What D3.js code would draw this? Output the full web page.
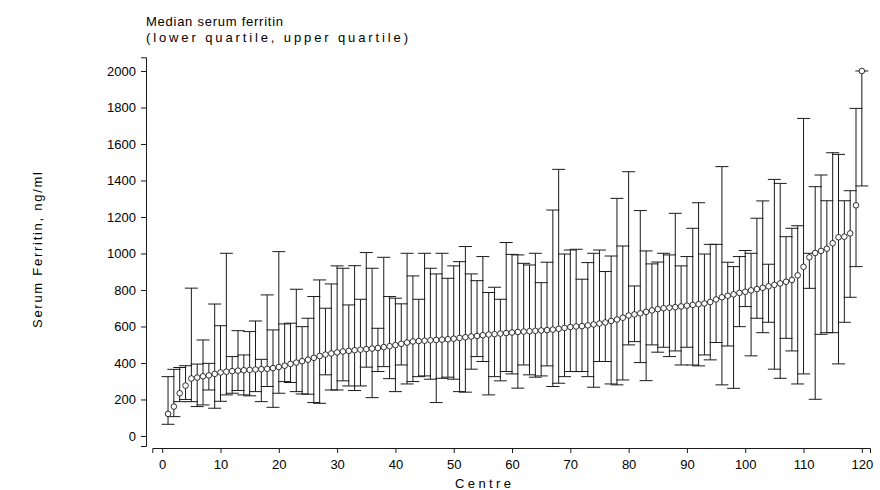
<!DOCTYPE html>
<html>
<head>
<meta charset="utf-8">
<script src="https://cdn.jsdelivr.net/npm/d3@7/dist/d3.min.js"></script>
<style>
  html, body { margin: 0; padding: 0; background: #fff; }
  svg { display: block; font-family: "Liberation Sans", Arial, sans-serif; }
</style>
</head>
<body>
<svg id="chart" width="880" height="490"></svg>
<script>
// ---- Data ----
const centres = d3.range(1, 121);
const medians = [
  121, 161, 234, 276, 315, 320, 327, 332, 340, 348,
  352, 355, 358, 360, 362, 364, 366, 368, 372, 378,
  385, 395, 402, 410, 418, 428, 438, 446, 452, 458,
  463, 466, 470, 473, 476, 479, 482, 487, 492, 498,
  505, 512, 518, 520, 522, 524, 526, 528, 530, 533,
  537, 541, 545, 548, 552, 556, 558, 561, 564, 567,
  570, 572, 574, 576, 578, 580, 583, 587, 592, 597,
  600, 602, 606, 611, 616, 622, 630, 638, 648, 660,
  666, 672, 680, 688, 695, 700, 703, 706, 710, 714,
  718, 722, 726, 734, 748, 760, 768, 776, 784, 790,
  798, 805, 812, 820, 828, 836, 845, 855, 880, 927,
  979, 1003, 1014, 1026, 1056, 1089, 1092, 1110, 1264, 2000
];
const lowerQ = [
  64, 106, 188, 200, 188, 161, 170, 252, 152, 190,
  225, 234, 249, 225, 220, 243, 188, 271, 157, 234,
  298, 293, 243, 230, 229, 183, 179, 335, 252, 252,
  302, 274, 249, 274, 377, 210, 353, 380, 314, 243,
  389, 285, 298, 325, 329, 311, 183, 316, 322, 311,
  243, 240, 366, 435, 408, 225, 325, 302, 353, 340,
  262, 389, 335, 322, 329, 384, 271, 289, 325, 353,
  353, 353, 325, 267, 408, 408, 285, 280, 307, 499,
  517, 402, 303, 499, 459, 486, 435, 466, 389, 486,
  389, 384, 444, 417, 512, 280, 493, 261, 599, 709,
  439, 645, 566, 623, 366, 316, 535, 466, 285, 340,
  809, 201, 557, 566, 566, 395, 623, 760, 928, 1370
];
const upperQ = [
  325, 365, 375, 385, 810, 394, 526, 398, 723, 604,
  1001, 435, 577, 444, 572, 630, 420, 773, 581, 1010,
  614, 618, 804, 599, 645, 764, 855, 700, 833, 932,
  919, 718, 933, 749, 1005, 919, 590, 979, 764, 755,
  724, 1001, 877, 749, 1001, 919, 888, 1001, 864, 932,
  955, 1038, 888, 851, 983, 786, 815, 749, 1060, 995,
  992, 946, 937, 1001, 840, 952, 1238, 1461, 997, 1019,
  1023, 859, 950, 1001, 1019, 901, 986, 1302, 1041, 1448,
  822, 1235, 1014, 943, 953, 1001, 992, 1220, 932, 983,
  1138, 1278, 997, 1050, 1050, 1476, 952, 928, 983, 1016,
  1001, 1193, 1288, 941, 1406, 1384, 1092, 1138, 1152, 1740,
  1001, 1366, 1430, 1289, 1552, 1543, 1289, 1344, 1795, 2000
];
const xTicks = d3.range(0, 121, 10);
const yTicks = d3.range(0, 2001, 200);
const titleLines = ["Median serum ferritin", "(lower quartile, upper quartile)"];
const xLabel = "Centre";
const yLabel = "Serum Ferritin, ng/ml";

// ---- Layout ----
const svg = d3.select("#chart");
const x = d3.scaleLinear().domain([-1.7, 121.4]).range([152.3, 870]);
const y = d3.scaleLinear().domain([-55, 2075]).range([446, 57.3]);
const ink = "#1a1a1a";

// axes
const yAxis = svg.append("g").attr("transform", "translate(146,0)")
  .call(d3.axisLeft(y).tickValues(yTicks).tickFormat(d3.format("d"))
    .tickSizeOuter(0).tickSize(5).tickPadding(5));
const xAxis = svg.append("g").attr("transform", "translate(0,448)")
  .call(d3.axisBottom(x).tickValues(xTicks).tickFormat(d3.format("d"))
    .tickSizeOuter(0).tickSize(5).tickPadding(7));
[yAxis, xAxis].forEach(g => {
  g.selectAll("path,line").attr("stroke", ink).attr("stroke-width", 1);
  g.selectAll("text").attr("fill", "#000").style("font-size", "13px")
    .style("font-family", '"Liberation Sans", Arial, sans-serif');
});

// error bars
const data = centres.map((c, i) => ({c, m: medians[i], lo: lowerQ[i], hi: upperQ[i]}));
const capW = 6.5;
const bars = svg.append("g").attr("stroke", ink).attr("stroke-width", 1).attr("fill", "none");
data.forEach(d => {
  const cx = x(d.c);
  bars.append("line").attr("x1", cx).attr("x2", cx).attr("y1", y(d.lo)).attr("y2", y(d.hi));
  bars.append("line").attr("x1", cx - capW).attr("x2", cx + capW).attr("y1", y(d.hi)).attr("y2", y(d.hi));
  bars.append("line").attr("x1", cx - capW).attr("x2", cx + capW).attr("y1", y(d.lo)).attr("y2", y(d.lo));
});

// medians
svg.append("g").selectAll("circle").data(data).join("circle")
  .attr("cx", d => x(d.c)).attr("cy", d => y(d.m)).attr("r", 2.8)
  .attr("fill", "#fff").attr("stroke", ink).attr("stroke-width", 0.9);

// title
svg.append("text").attr("x", 146).attr("y", 26).attr("textLength", 137).attr("lengthAdjust", "spacing")
  .style("font-size", "13px").text(titleLines[0]);
svg.append("text").attr("x", 146).attr("y", 42).attr("textLength", 262).attr("lengthAdjust", "spacing")
  .style("font-size", "13px").text(titleLines[1]);

// axis labels
svg.append("text").attr("x", 483).attr("y", 488).attr("text-anchor", "middle")
  .attr("textLength", 56).attr("lengthAdjust", "spacing")
  .style("font-size", "13px").text(xLabel);
svg.append("text").attr("transform", "translate(42,250) rotate(-90)").attr("text-anchor", "middle")
  .attr("textLength", 156).attr("lengthAdjust", "spacing")
  .style("font-size", "13px").text(yLabel);
</script>
</body>
</html>
